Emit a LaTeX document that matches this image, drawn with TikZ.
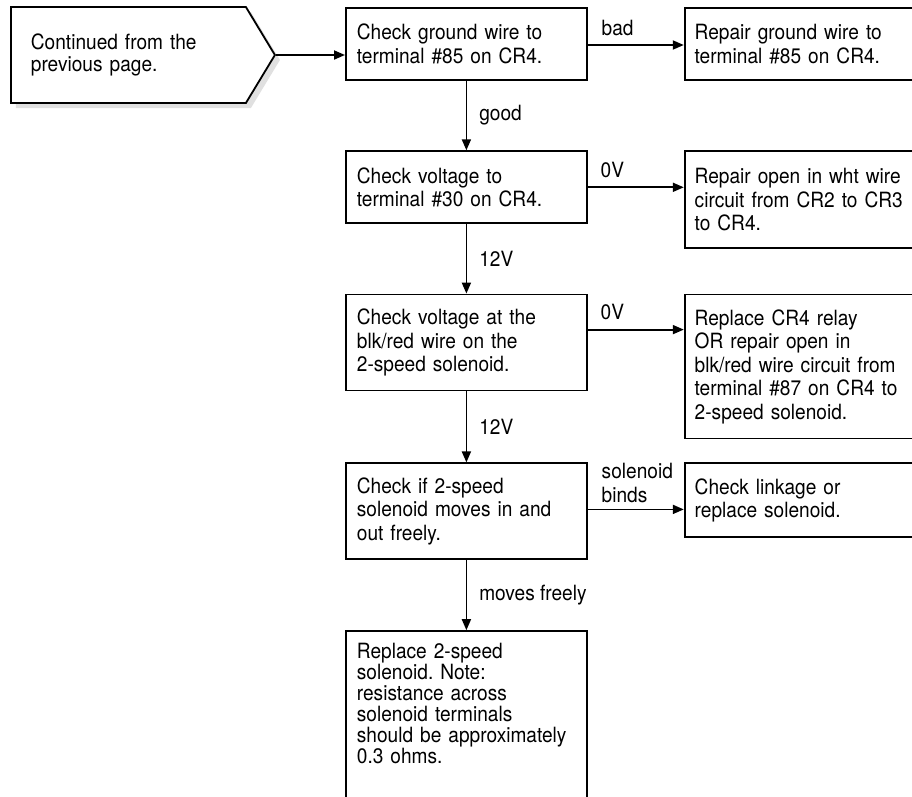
\documentclass[tikz,border=0pt]{standalone}
\usepackage{fontspec}
\setmainfont{TeX Gyre Heros}[FakeStretch=0.91]
\usetikzlibrary{arrows.meta, positioning, shapes.symbols, shadows}

\begin{document}
\frenchspacing
\begin{tikzpicture}[>={Triangle[length=11pt, width=9pt]}, x=1pt, y=1pt,
    box/.style={draw, rectangle, line width=1.8pt, minimum width=241pt,
                minimum height=72pt, text width=219pt, inner xsep=11pt,
                inner ysep=0pt, align=left,
                font=\fontsize{21}{23.5}\selectfont},
    fixbox/.style={box, minimum width=228pt, text width=208pt, inner xsep=10pt},
    contbox/.style={signal, signal to=east, signal pointer angle=117.7,
                    draw, line width=1.8pt, fill=white, text width=195pt,
                    inner xsep=20pt, minimum height=96pt, align=left,
                    font=\fontsize{21}{22}\selectfont,
                    drop shadow={shadow xshift=5pt, shadow yshift=-5pt,
                                 fill=black!12, opacity=1}},
    lbl/.style={inner sep=0pt, font=\fontsize{21}{24}\selectfont},
    link/.style={->, line width=1.8pt},
    node distance=69.5pt
  ]
  \useasboundingbox (0,0) rectangle (912,-796);
  \clip (0,0) rectangle (912,-796);
  \fill[white] (0,0) rectangle (912,-796);

  \node[contbox, anchor=west] (cont) at (10,-55) {Continued from the\\previous page.};

  % checks, left column
  \node[box, anchor=north west] (chk1) at (345,-7) {Check ground wire to\\terminal \#85 on CR4.};
  \node[box, below=of chk1] (chk2) {Check voltage to\\terminal \#30 on CR4.};
  \node[box, below=of chk2, minimum height=96pt] (chk3) {Check voltage at the\\blk/red wire on the\\2-speed solenoid.};
  \node[box, below=71pt of chk3, minimum height=96pt] (chk4) {Check if 2-speed\\solenoid moves in and\\out freely.};
  \node[box, below=70pt of chk4, inner ysep=12pt,
        font=\fontsize{21}{21}\selectfont] (swap) {Replace 2-speed\\solenoid. Note:\\resistance across\\solenoid terminals\\should be approximately\\0.3 ohms.\rule[-34pt]{0pt}{0pt}};

  % repairs, right column
  \node[fixbox, right=96pt of chk1.north east, anchor=north west] (fix1) {Repair ground wire to\\terminal \#85 on CR4.};
  \node[fixbox, right=96pt of chk2.north east, anchor=north west, minimum height=97pt] (fix2) {Repair open in wht wire\\\mbox{circuit from CR2 to CR3}\\to CR4.};
  \node[fixbox, right=96pt of chk3.north east, anchor=north west, minimum height=144pt] (fix3) {Replace CR4 relay\\OR repair open in\\blk/red wire circuit from\\terminal \#87 on CR4 to\\2-speed solenoid.};
  \node[fixbox, right=96pt of chk4.north east, anchor=north west, minimum height=74pt] (fix4) {Check linkage or\\replace solenoid.};

  % entry
  \draw[link] (cont.east) -- (cont.east -| chk1.west);

  % down the checks
  \draw[link] (chk1) -- node[lbl, right=12pt] {good} (chk2);
  \draw[link] (chk2) -- node[lbl, right=12pt] {12V} (chk3);
  \draw[link] (chk3) -- node[lbl, right=12pt] {12V} (chk4);
  \draw[link] (chk4) -- node[lbl, right=12pt] {moves freely} (swap);

  % out to the repairs
  \draw[link] ([yshift=-38pt]chk1.north east) -- ([yshift=-38pt]fix1.north west)
    node[lbl, pos=0, anchor=base west, xshift=13pt, yshift=10pt] {bad};
  \draw[link] ([yshift=-37pt]chk2.north east) -- ([yshift=-37pt]fix2.north west)
    node[lbl, pos=0, anchor=base west, xshift=12pt, yshift=10pt] {0V};
  \draw[link] ([yshift=-36pt]chk3.north east) -- ([yshift=-36pt]fix3.north west)
    node[lbl, pos=0, anchor=base west, xshift=12pt, yshift=10pt] {0V};
  \draw[link] ([yshift=-47pt]chk4.north east) -- ([yshift=-47pt]fix4.north west)
    node[lbl, pos=0, anchor=south west, align=left, xshift=13pt, yshift=6pt] {solenoid\\binds};
\end{tikzpicture}
\end{document}
